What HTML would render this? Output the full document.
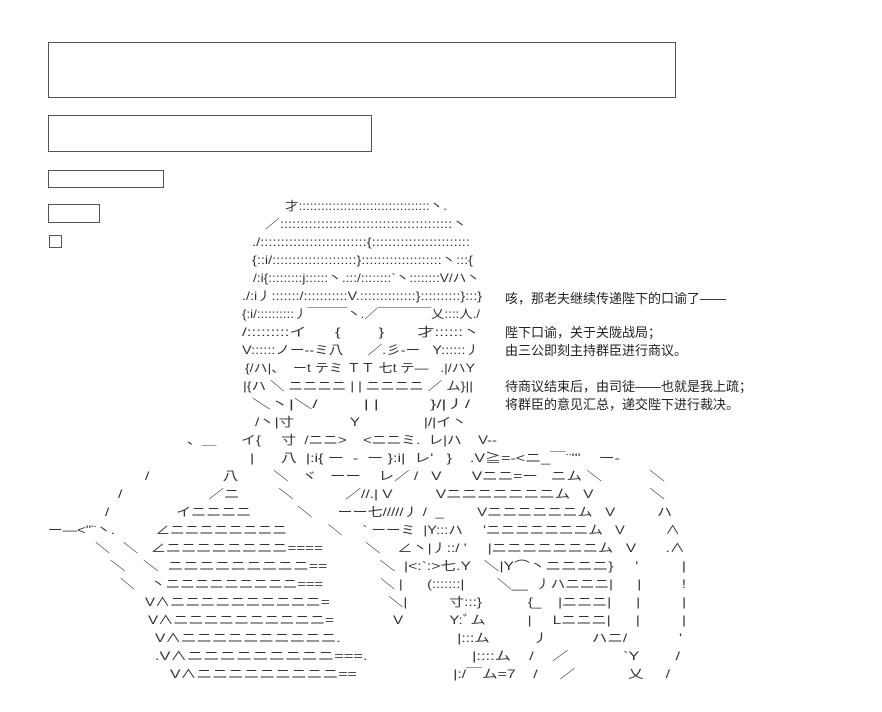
<!DOCTYPE html>
<html><head><meta charset="utf-8"><style>
html,body{margin:0;padding:0;background:#fff;}
body{width:882px;height:712px;position:relative;overflow:hidden;}
.box{position:absolute;border:1px solid #555;box-sizing:border-box;}
.t{position:absolute;font-family:"Liberation Sans","Noto Sans CJK SC",sans-serif;font-size:13px;color:#222;white-space:nowrap;}
svg{position:absolute;left:0;top:0;}
svg text{font-family:"Liberation Sans","Noto Sans CJK JP",sans-serif;font-size:12px;fill:#333;white-space:pre;}
</style></head><body>
<div class="box" style="left:48px;top:42px;width:628px;height:56px;"></div>
<div class="box" style="left:48px;top:115px;width:324px;height:37px;"></div>
<div class="box" style="left:48px;top:170px;width:116px;height:18px;"></div>
<div class="box" style="left:48px;top:204px;width:52px;height:19px;"></div>
<div class="box" style="left:49px;top:235px;width:13px;height:13px;"></div>

<div class="t" style="left:505px;top:288px;">咳，那老夫继续传递陛下的口谕了——</div>
<div class="t" style="left:505px;top:322px;">陛下口谕，关于关陇战局；</div>
<div class="t" style="left:505px;top:340px;">由三公即刻主持群臣进行商议。</div>
<div class="t" style="left:505px;top:376px;">待商议结束后，由司徒——也就是我上疏；</div>
<div class="t" style="left:505px;top:394px;">将群臣的意见汇总，递交陛下进行裁决。</div>

<svg width="882" height="712" xml:space="preserve">
<text x="285" y="210" textLength="162" lengthAdjust="spacingAndGlyphs">才:::::::::::::::::::::::::::::::::::丶.</text>
<text x="265" y="228" textLength="202" lengthAdjust="spacingAndGlyphs">／::::::::::::::::::::::::::::::::::::::::::丶</text>
<text x="252" y="246" textLength="218" lengthAdjust="spacingAndGlyphs">./::::::::::::::::::::::::::{::::::::::::::::::::::::</text>
<text x="252" y="264" textLength="221" lengthAdjust="spacingAndGlyphs">{::i/:::::::::::::::::::::}::::::::::::::::::::丶:::{</text>
<text x="253" y="282" textLength="227" lengthAdjust="spacingAndGlyphs">/:i{:::::::::j::::::丶.:::/::::::::`丶::::::::V/ハ丶</text>
<text x="242" y="300" textLength="240" lengthAdjust="spacingAndGlyphs">./:i丿:::::::/:::::::::::V.::::::::::::::}::::::::::}:::}</text>
<text x="242" y="318" textLength="238" lengthAdjust="spacingAndGlyphs">{:i/::::::::::丿￣￣￣丶.／￣￣￣￣乂::::人./</text>
<text x="242" y="336" textLength="238" lengthAdjust="spacingAndGlyphs">/:::::::::イ      {        }       才::::::丶</text>
<text x="242" y="354" textLength="238" lengthAdjust="spacingAndGlyphs">V::::::ノー--ミ八      ／.彡-ー   Y::::::丿</text>
<text x="245" y="372" textLength="230" lengthAdjust="spacingAndGlyphs">{/ハ|、  ーt テミ ＴＴ 七t テ―   .|/ハY</text>
<text x="243" y="390" textLength="230" lengthAdjust="spacingAndGlyphs">|{ハ ＼ ニニニニ | | ニニニニ ／ ム}||</text>
<text x="252" y="408" textLength="218" lengthAdjust="spacingAndGlyphs">＼丶|＼/         | |          }/|丿/</text>
<text x="255" y="426" textLength="212" lengthAdjust="spacingAndGlyphs">/丶|寸             Y               |/|イ丶</text>
<text x="187" y="444" textLength="310" lengthAdjust="spacingAndGlyphs">、＿      イ{     寸  /ニニ>    <ニニミ.  レ|ハ    V--</text>
<text x="250" y="462" textLength="370" lengthAdjust="spacingAndGlyphs">|      八  |:i{ ー  -  ー }:i|  レ'   }    .V≧=-<ニ_￣¨'''    ー-</text>
<text x="145" y="480" textLength="520" lengthAdjust="spacingAndGlyphs">/                 八        ＼   ヾ   ーー    レ／ /   V       Vニニ=ー   ニム ＼           ＼</text>
<text x="118" y="498" textLength="547" lengthAdjust="spacingAndGlyphs">/                    ／ニ         ＼            ／//.| V          Vニニニニニニニム   V             ＼</text>
<text x="105" y="516" textLength="567" lengthAdjust="spacingAndGlyphs">/                イニニニニ           ＼      ーー七/////丿 /  _        Vニニニニニニム   V          ハ</text>
<text x="48" y="534" textLength="632" lengthAdjust="spacingAndGlyphs">ー―<''¨丶.          ∠ニニニニニニニニ          ＼     ` ーーミ  |Y:::ハ     'ニニニニニニニム   V          ∧</text>
<text x="95" y="552" textLength="590" lengthAdjust="spacingAndGlyphs">＼   ＼   ∠ニニニニニニニニ====          ＼    ∠丶|丿::/ '     |ニニニニニニニム   V       .∧</text>
<text x="110" y="570" textLength="576" lengthAdjust="spacingAndGlyphs">＼    ＼  ニニニニニニニニニ==            ＼  |<:`:>七.Y   ＼|Y⌒丶ニニニニ}     '          |</text>
<text x="120" y="588" textLength="566" lengthAdjust="spacingAndGlyphs">＼    丶ニニニニニニニニニ===              ＼ |      (:::::::|        ＼__  丿ハニニニ|      |          !</text>
<text x="145" y="606" textLength="541" lengthAdjust="spacingAndGlyphs">V∧ニニニニニニニニニニ=              ＼|          寸:::}           {_    |ニニニ|      |          |</text>
<text x="148" y="624" textLength="538" lengthAdjust="spacingAndGlyphs">V∧ニニニニニニニニニニ=              V           Y:ﾞム          |     Lニニニ|      |          |</text>
<text x="155" y="642" textLength="527" lengthAdjust="spacingAndGlyphs">V∧ニニニニニニニニニニ.                           |:::ム          丿          ハニ/            '</text>
<text x="155" y="660" textLength="525" lengthAdjust="spacingAndGlyphs">.V∧ニニニニニニニニニ===.                       |::::ム    /    ／            `Y        /</text>
<text x="170" y="678" textLength="500" lengthAdjust="spacingAndGlyphs">V∧ニニニニニニニニニ==                      |:/￣ム=7    /     ／            乂     /</text>
</svg>
</body></html>
